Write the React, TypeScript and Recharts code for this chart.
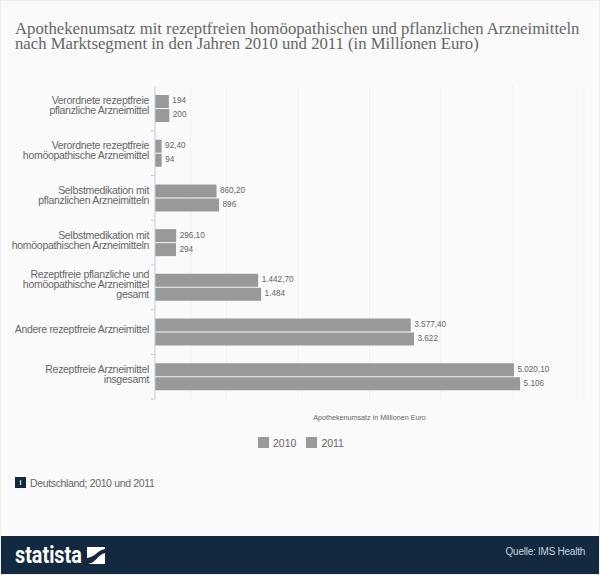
import React from 'react';
import { BarChart, Bar, XAxis, YAxis, CartesianGrid, Legend, LabelList } from 'recharts';

const categories = [
  'Verordnete rezeptfreie|pflanzliche Arzneimittel',
  'Verordnete rezeptfreie|homöopathische Arzneimittel',
  'Selbstmedikation mit|pflanzlichen Arzneimitteln',
  'Selbstmedikation mit|homöopathischen Arzneimitteln',
  'Rezeptfreie pflanzliche und|homöopathische Arzneimittel|gesamt',
  'Andere rezeptfreie Arzneimittel',
  'Rezeptfreie Arzneimittel|insgesamt',
];
const values2010 = [194, 92.4, 860.2, 296.1, 1442.7, 3577.4, 5020.1];
const values2011 = [200, 94, 896, 294, 1484, 3622, 5106];
const xTicks = [0, 500, 1000, 1500, 2000, 2500, 3000, 3500, 4000, 4500, 5000, 5500, 6000];

const data = categories.map((name, i) => ({
  name,
  y2010: values2010[i],
  y2011: values2011[i],
}));

const BAND = 44.9;
const GREY = '#999999';

const formatValue = (v: any) =>
  Number(v).toLocaleString('de-DE', {
    minimumFractionDigits: Number.isInteger(Number(v)) ? 0 : 2,
    maximumFractionDigits: 2,
  });

const CategoryTick = ({ x, y, payload }: any) => {
  const lines = String(payload.value).split('|');
  const startY = y - ((lines.length - 1) * 10) / 2 + 1;
  return (
    <g>
      <line x1={x + 4} x2={x + 8} y1={y + BAND / 2} y2={y + BAND / 2} stroke="#c0d0e0" />
      <text x={x + 2} y={startY} textAnchor="end" fontSize={10.5} letterSpacing={-0.3} fill="#666666" fontFamily="'Liberation Sans', Arial, sans-serif">
        {lines.map((line, i) => (
          <tspan key={i} x={x + 2} y={startY + i * 10}>{line}</tspan>
        ))}
      </text>
    </g>
  );
};

const EmptyTick = () => <g />;

export default function App() {
  return (
    <div style={{ position: 'absolute', left: 0, top: 0, width: 598, height: 573, border: '1px solid #eeeeee', background: '#fafafa', overflow: 'hidden', fontFamily: "'Liberation Sans', Arial, sans-serif" }}>
      <div style={{ position: 'absolute', left: 14, top: 20, width: 580, fontFamily: "'Liberation Serif', serif", fontSize: 16.7, lineHeight: '15px', color: '#666666', whiteSpace: 'nowrap' }}>
        Apothekenumsatz mit rezeptfreien homöopathischen und pflanzlichen Arzneimitteln
        <br />
        nach Marktsegment in den Jahren 2010 und 2011 (in Millionen Euro)
      </div>

      <div style={{ position: 'absolute', left: -1, top: -1 }}>
        <BarChart
          width={600}
          height={470}
          data={data}
          layout="vertical"
          margin={{ top: 86, right: 16, left: 0, bottom: 23 }}
          barSize={13}
          barGap={1}
        >
          <CartesianGrid horizontal={false} stroke="#f1f1f1" />
          <XAxis
            type="number"
            domain={[0, 6000]}
            ticks={xTicks}
            tick={<EmptyTick />}
            axisLine={false}
            tickLine={false}
            height={30}
            label={{ value: 'Apothekenumsatz in Millionen Euro', position: 'insideBottom', offset: 9, fontSize: 7.2, fill: '#666666' }}
          />
          <YAxis
            type="category"
            dataKey="name"
            width={155}
            interval={0}
            axisLine={{ stroke: '#c0d0e0' }}
            tickLine={false}
            tick={<CategoryTick />}
          />
          <Legend
            verticalAlign="bottom"
            iconType="square"
            iconSize={11}
            formatter={(value: any) => <span style={{ color: '#666666', fontSize: 10.5 }}>{value}</span>}
            wrapperStyle={{ left: 256, width: 100, top: 433 }}
          />
          <Bar dataKey="y2010" name="2010" fill={GREY} isAnimationActive={false}>
            <LabelList dataKey="y2010" position="right" offset={3.5} dy={-1} formatter={formatValue} fontSize={8.2} fill="#666666" />
          </Bar>
          <Bar dataKey="y2011" name="2011" fill={GREY} isAnimationActive={false}>
            <LabelList dataKey="y2011" position="right" offset={3.5} dy={-1} formatter={formatValue} fontSize={8.2} fill="#666666" />
          </Bar>
        </BarChart>
      </div>

      <div style={{ position: 'absolute', left: 14, top: 476, width: 11, height: 11, background: '#13293f', color: '#fff', fontSize: 7, lineHeight: '11px', textAlign: 'center', fontWeight: 700 }}>i</div>
      <div style={{ position: 'absolute', left: 29, top: 476, fontSize: 10.5, letterSpacing: -0.35, lineHeight: '13px', color: '#666666' }}>Deutschland; 2010 und 2011</div>

      <div style={{ position: 'absolute', left: 0, top: 535, width: 598, height: 38, background: '#13293f' }}>
        <div style={{ position: 'absolute', left: 14, top: 6, fontFamily: "'Roboto', sans-serif", fontWeight: 700, fontSize: 23, lineHeight: '28px', color: '#ffffff', transform: 'scaleX(0.86)', transformOrigin: 'left' }}>statista</div>
        <svg style={{ position: 'absolute', left: 86, top: 11 }} width={18} height={17}>
          <path d="M0 0H18V2C10 3 9 10 0 11Z" fill="#ffffff" />
          <path d="M18 6V17H1C9 16 10 8 18 6Z" fill="#ffffff" />
        </svg>
        <div style={{ position: 'absolute', right: 14, top: 9, fontSize: 10, letterSpacing: -0.25, lineHeight: '13px', color: '#c8d0d8' }}>Quelle: IMS Health</div>
      </div>
    </div>
  );
}
